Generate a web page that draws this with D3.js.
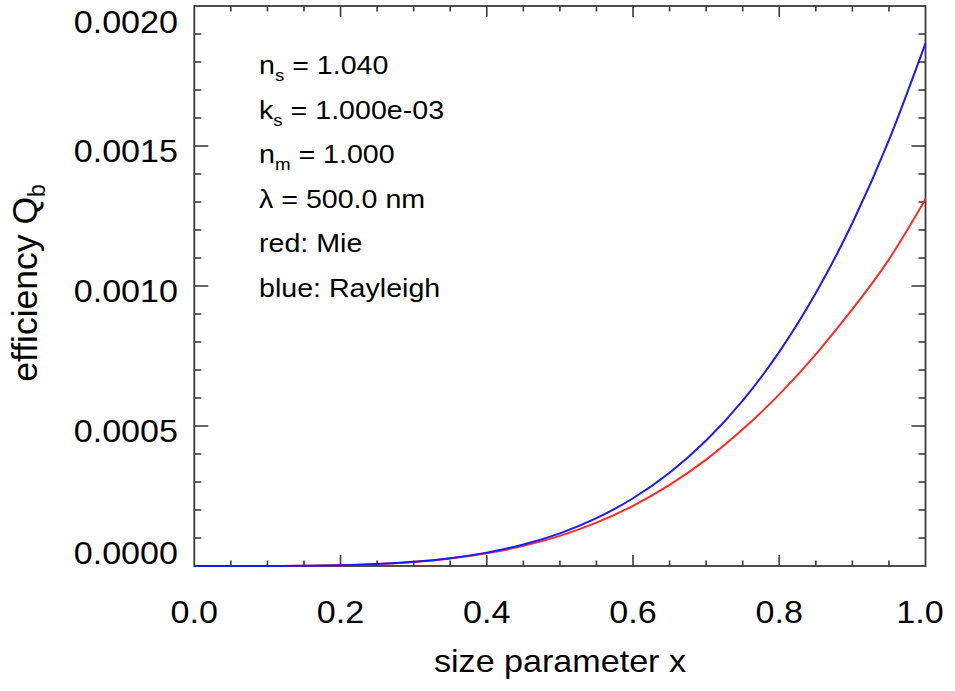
<!DOCTYPE html>
<html><head><meta charset="utf-8">
<script src="https://cdn.jsdelivr.net/npm/d3@7"></script>
<style>html,body{margin:0;padding:0;background:#fff;}svg{display:block;}</style>
</head><body>
<svg id="c" width="955" height="691"></svg>
<script>
// ---- data ----
const sizeParam = [0,0.05,0.1,0.15,0.2,0.25,0.3,0.35,0.4,0.45,0.5,0.55,0.6,0.65,0.7,0.75,0.8,0.85,0.9,0.95,1.0];
const rayleighQb = [0,1.17e-8,1.87e-7,9.45e-7,2.99e-6,7.29e-6,1.512e-5,2.80e-5,4.78e-5,7.66e-5,1.167e-4,1.708e-4,2.420e-4,3.333e-4,4.483e-4,5.907e-4,7.647e-4,9.746e-4,1.2249e-3,1.5207e-3,1.867e-3];
const mieQb = [0,1.17e-8,1.86e-7,9.38e-7,2.95e-6,7.15e-6,1.47e-5,2.70e-5,4.54e-5,7.18e-5,1.077e-4,1.548e-4,2.15e-4,2.90e-4,3.80e-4,4.88e-4,6.13e-4,7.56e-4,9.17e-4,1.095e-3,1.31e-3];
const xTickLabels = ["0.0","0.2","0.4","0.6","0.8","1.0"];
const yTickLabels = ["0.0000","0.0005","0.0010","0.0015","0.0020"];
const xMajor = [0,0.2,0.4,0.6,0.8,1.0];
const yMajor = [0,0.0005,0.0010,0.0015,0.0020];
const annotations = [
  {main:"n", sub:"s", rest:" = 1.040"},
  {main:"k", sub:"s", rest:" = 1.000e-03"},
  {main:"n", sub:"m", rest:" = 1.000"},
  {main:"λ = 500.0 nm", sub:"", rest:""},
  {main:"red: Mie", sub:"", rest:""},
  {main:"blue: Rayleigh", sub:"", rest:""}
];

// ---- layout ----
const L = 194.3, R = 925.5, T = 6, B = 566;
const FONT = "'Liberation Sans', Arial, Helvetica, sans-serif";
const SX = 1.1;
const frameColor = "#3a3a3a";
const svg = d3.select("#c");

const x = d3.scaleLinear().domain([0,1]).range([L,R]);
const y = d3.scaleLinear().domain([0,0.002]).range([B,T]);

const xMinor = d3.range(0,21).map(i=>i*0.05).filter(v=>!xMajor.some(m=>Math.abs(m-v)<1e-9));
const yMinor = d3.range(0,21).map(i=>i*0.0001).filter(v=>!yMajor.some(m=>Math.abs(m-v)<1e-12));

// frame
svg.append("rect").attr("x",L).attr("y",T).attr("width",R-L).attr("height",B-T)
  .attr("fill","none").attr("stroke",frameColor).attr("stroke-width",1.8);

const g = svg.append("g");
function xt(vals,len){
  vals.forEach(v=>{
    g.append("line").attr("x1",x(v)).attr("x2",x(v)).attr("y1",B).attr("y2",B-len)
      .attr("stroke",frameColor).attr("stroke-width",1.6);
    g.append("line").attr("x1",x(v)).attr("x2",x(v)).attr("y1",T).attr("y2",T+len)
      .attr("stroke",frameColor).attr("stroke-width",1.6);
  });
}
function yt(vals,len){
  vals.forEach(v=>{
    g.append("line").attr("x1",L).attr("x2",L+len).attr("y1",y(v)).attr("y2",y(v))
      .attr("stroke",frameColor).attr("stroke-width",1.6);
    g.append("line").attr("x1",R).attr("x2",R-len).attr("y1",y(v)).attr("y2",y(v))
      .attr("stroke",frameColor).attr("stroke-width",1.6);
  });
}
xt(xMinor,5.5); xt(xMajor.slice(1,-1),11);
yt(yMinor,7); yt(yMajor.slice(1,-1),14);

// curves (drawn over the frame)
const line = d3.line().curve(d3.curveNatural).x((d,i)=>x(sizeParam[i])).y(d=>y(d));
svg.append("path").datum(mieQb).attr("d",line).attr("fill","none").attr("stroke","#ff2a2a").attr("stroke-width",2);
svg.append("path").datum(rayleighQb).attr("d",line).attr("fill","none").attr("stroke","#1a1aff").attr("stroke-width",2);

function stext(px,py,anchor,size){
  return svg.append("g").attr("transform",`translate(${px},${py}) scale(${SX},1)`)
    .append("text").attr("x",0).attr("y",0).attr("text-anchor",anchor)
    .attr("font-family",FONT).attr("font-size",size).attr("fill","#000");
}

yMajor.forEach((v,i)=>{
  let cy = Math.max(T+15.5, Math.min(B-13, y(v)+5));
  stext(178, cy+11, "end", 31).text(yTickLabels[i]);
});
xMajor.forEach((v,i)=>{
  let cx = Math.min(R-5.5, x(v));
  stext(cx, 623, "middle", 31).text(xTickLabels[i]);
});
stext(560, 672, "middle", 31).text("size parameter x");

const yt2 = svg.append("text").attr("transform","translate(37,283) rotate(-90)")
  .attr("text-anchor","middle").attr("font-family",FONT).attr("font-size",35.5).attr("fill","#000");
yt2.append("tspan").text("efficiency Q");
yt2.append("tspan").attr("font-size",23).attr("dy",8).text("b");

annotations.forEach((a,i)=>{
  const t = stext(259, 74 + i*44.6, "start", 26);
  t.append("tspan").text(a.main);
  if(a.sub){
    t.append("tspan").attr("font-size",17).attr("dy",7).text(a.sub);
    t.append("tspan").attr("dy",-7).text(a.rest);
  }
});
</script>
</body></html>
